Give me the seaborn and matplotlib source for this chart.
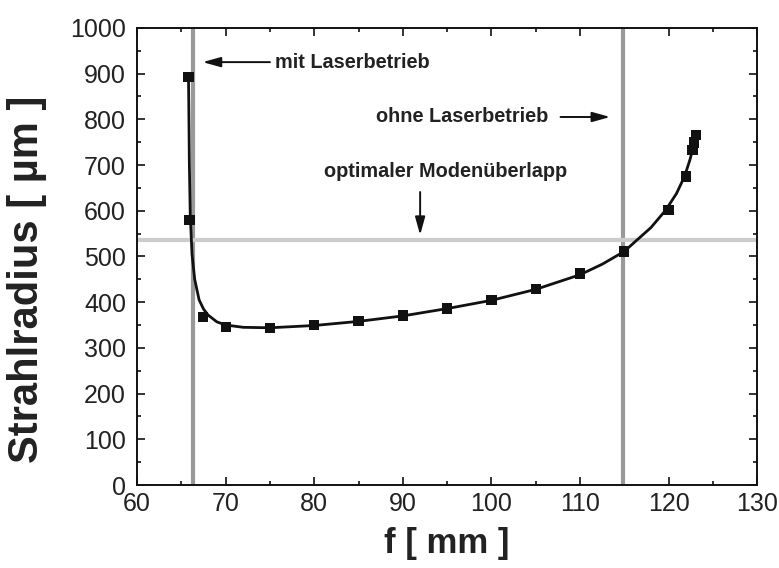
import numpy as np
import pandas as pd
import matplotlib
matplotlib.use("Agg")
import matplotlib.pyplot as plt
import seaborn as sns
from matplotlib.ticker import MultipleLocator

# measured points (squares)
f_mm = [65.8, 65.9, 67.4, 70, 75, 80, 85, 90, 95, 100, 105, 110, 115, 120, 122, 122.7, 122.9, 123.1]
radius_um = [892, 580, 368, 346, 344, 350, 359, 371, 386, 405, 429, 463, 511, 602, 675, 733, 749, 766]

# fitted curve
curve_f = [65.8, 65.9, 66.0, 66.2, 66.5, 67.0, 67.5, 68.0, 69.0, 70.0, 72.0, 75.0,
           80, 85, 90, 95, 100, 105, 110, 112.5, 115, 116.2, 118, 119.7, 120.9, 121.8,
           122.4, 122.8, 123.2]
curve_r = [900, 700, 590, 505, 450, 405, 385, 372, 357, 350, 345, 344,
           349, 358, 370, 386, 404, 428, 460, 483, 511, 532, 563, 602, 638, 675,
           711, 740, 770]

f_laser_on = 66.3
f_laser_off = 114.8
r_optimal = 535

df_pts = pd.DataFrame({"f": f_mm, "r": radius_um})
df_fit = pd.DataFrame({"f": curve_f, "r": curve_r})

sns.set_theme(style="ticks")
plt.rcParams["font.family"] = ["Liberation Sans", "DejaVu Sans"]

fig = plt.figure(figsize=(7.79, 5.68), dpi=100)
ax = fig.add_axes([0.176, 0.146, 0.796, 0.805])

ax.axvline(f_laser_on, color="#999999", lw=3, zorder=1)
ax.axvline(f_laser_off, color="#999999", lw=3, zorder=1)
ax.axhline(r_optimal, color="#cccccc", lw=3, zorder=1)

sns.lineplot(data=df_fit, x="f", y="r", ax=ax, color="#111111", lw=2, sort=False, zorder=3)
sns.scatterplot(data=df_pts, x="f", y="r", ax=ax, marker="s", s=55, color="#111111",
                edgecolor="none", zorder=4)

ax.set_xlim(60, 130)
ax.set_ylim(0, 1000)
ax.xaxis.set_major_locator(MultipleLocator(10))
ax.xaxis.set_minor_locator(MultipleLocator(5))
ax.yaxis.set_major_locator(MultipleLocator(100))
ax.yaxis.set_minor_locator(MultipleLocator(50))
ax.tick_params(which="both", direction="in", top=True, right=True, width=1.2,
               colors="#111111", labelcolor="#222222")
ax.tick_params(which="major", length=6, labelsize=18)
ax.tick_params(axis="x", which="major", pad=5)
ax.tick_params(axis="y", which="major", pad=8)
ax.tick_params(which="minor", length=3)
for s in ax.spines.values():
    s.set_linewidth(1.4)
    s.set_color("#111111")

lbl = dict(fontweight="bold", color="#222222")
ax.set_xlabel("f [ mm ]", labelpad=8, fontsize=25, **lbl)
ax.set_ylabel("Strahlradius [ µm ]", fontsize=30, **lbl)
ax.yaxis.set_label_coords(-0.145, 0.45)

txt = dict(fontweight="bold", fontsize=14.3, color="#222222")
arr = dict(arrowstyle="-|>,head_length=0.9,head_width=0.25", color="#111111", lw=1.4,
           mutation_scale=12, shrinkA=0, shrinkB=0)
ax.annotate("", xy=(67.4, 925), xytext=(75.0, 925), arrowprops=arr)
ax.text(75.6, 925, "mit Laserbetrieb", va="center", ha="left", **txt)
ax.annotate("", xy=(113.4, 805), xytext=(107.8, 805), arrowprops=arr)
ax.text(106.4, 805, "ohne Laserbetrieb", va="center", ha="right", **txt)
ax.annotate("", xy=(91.95, 547), xytext=(91.95, 641), arrowprops=arr)
ax.text(94.8, 685, "optimaler Modenüberlapp", va="center", ha="center", **txt)

fig.savefig("out.png", dpi=100)
